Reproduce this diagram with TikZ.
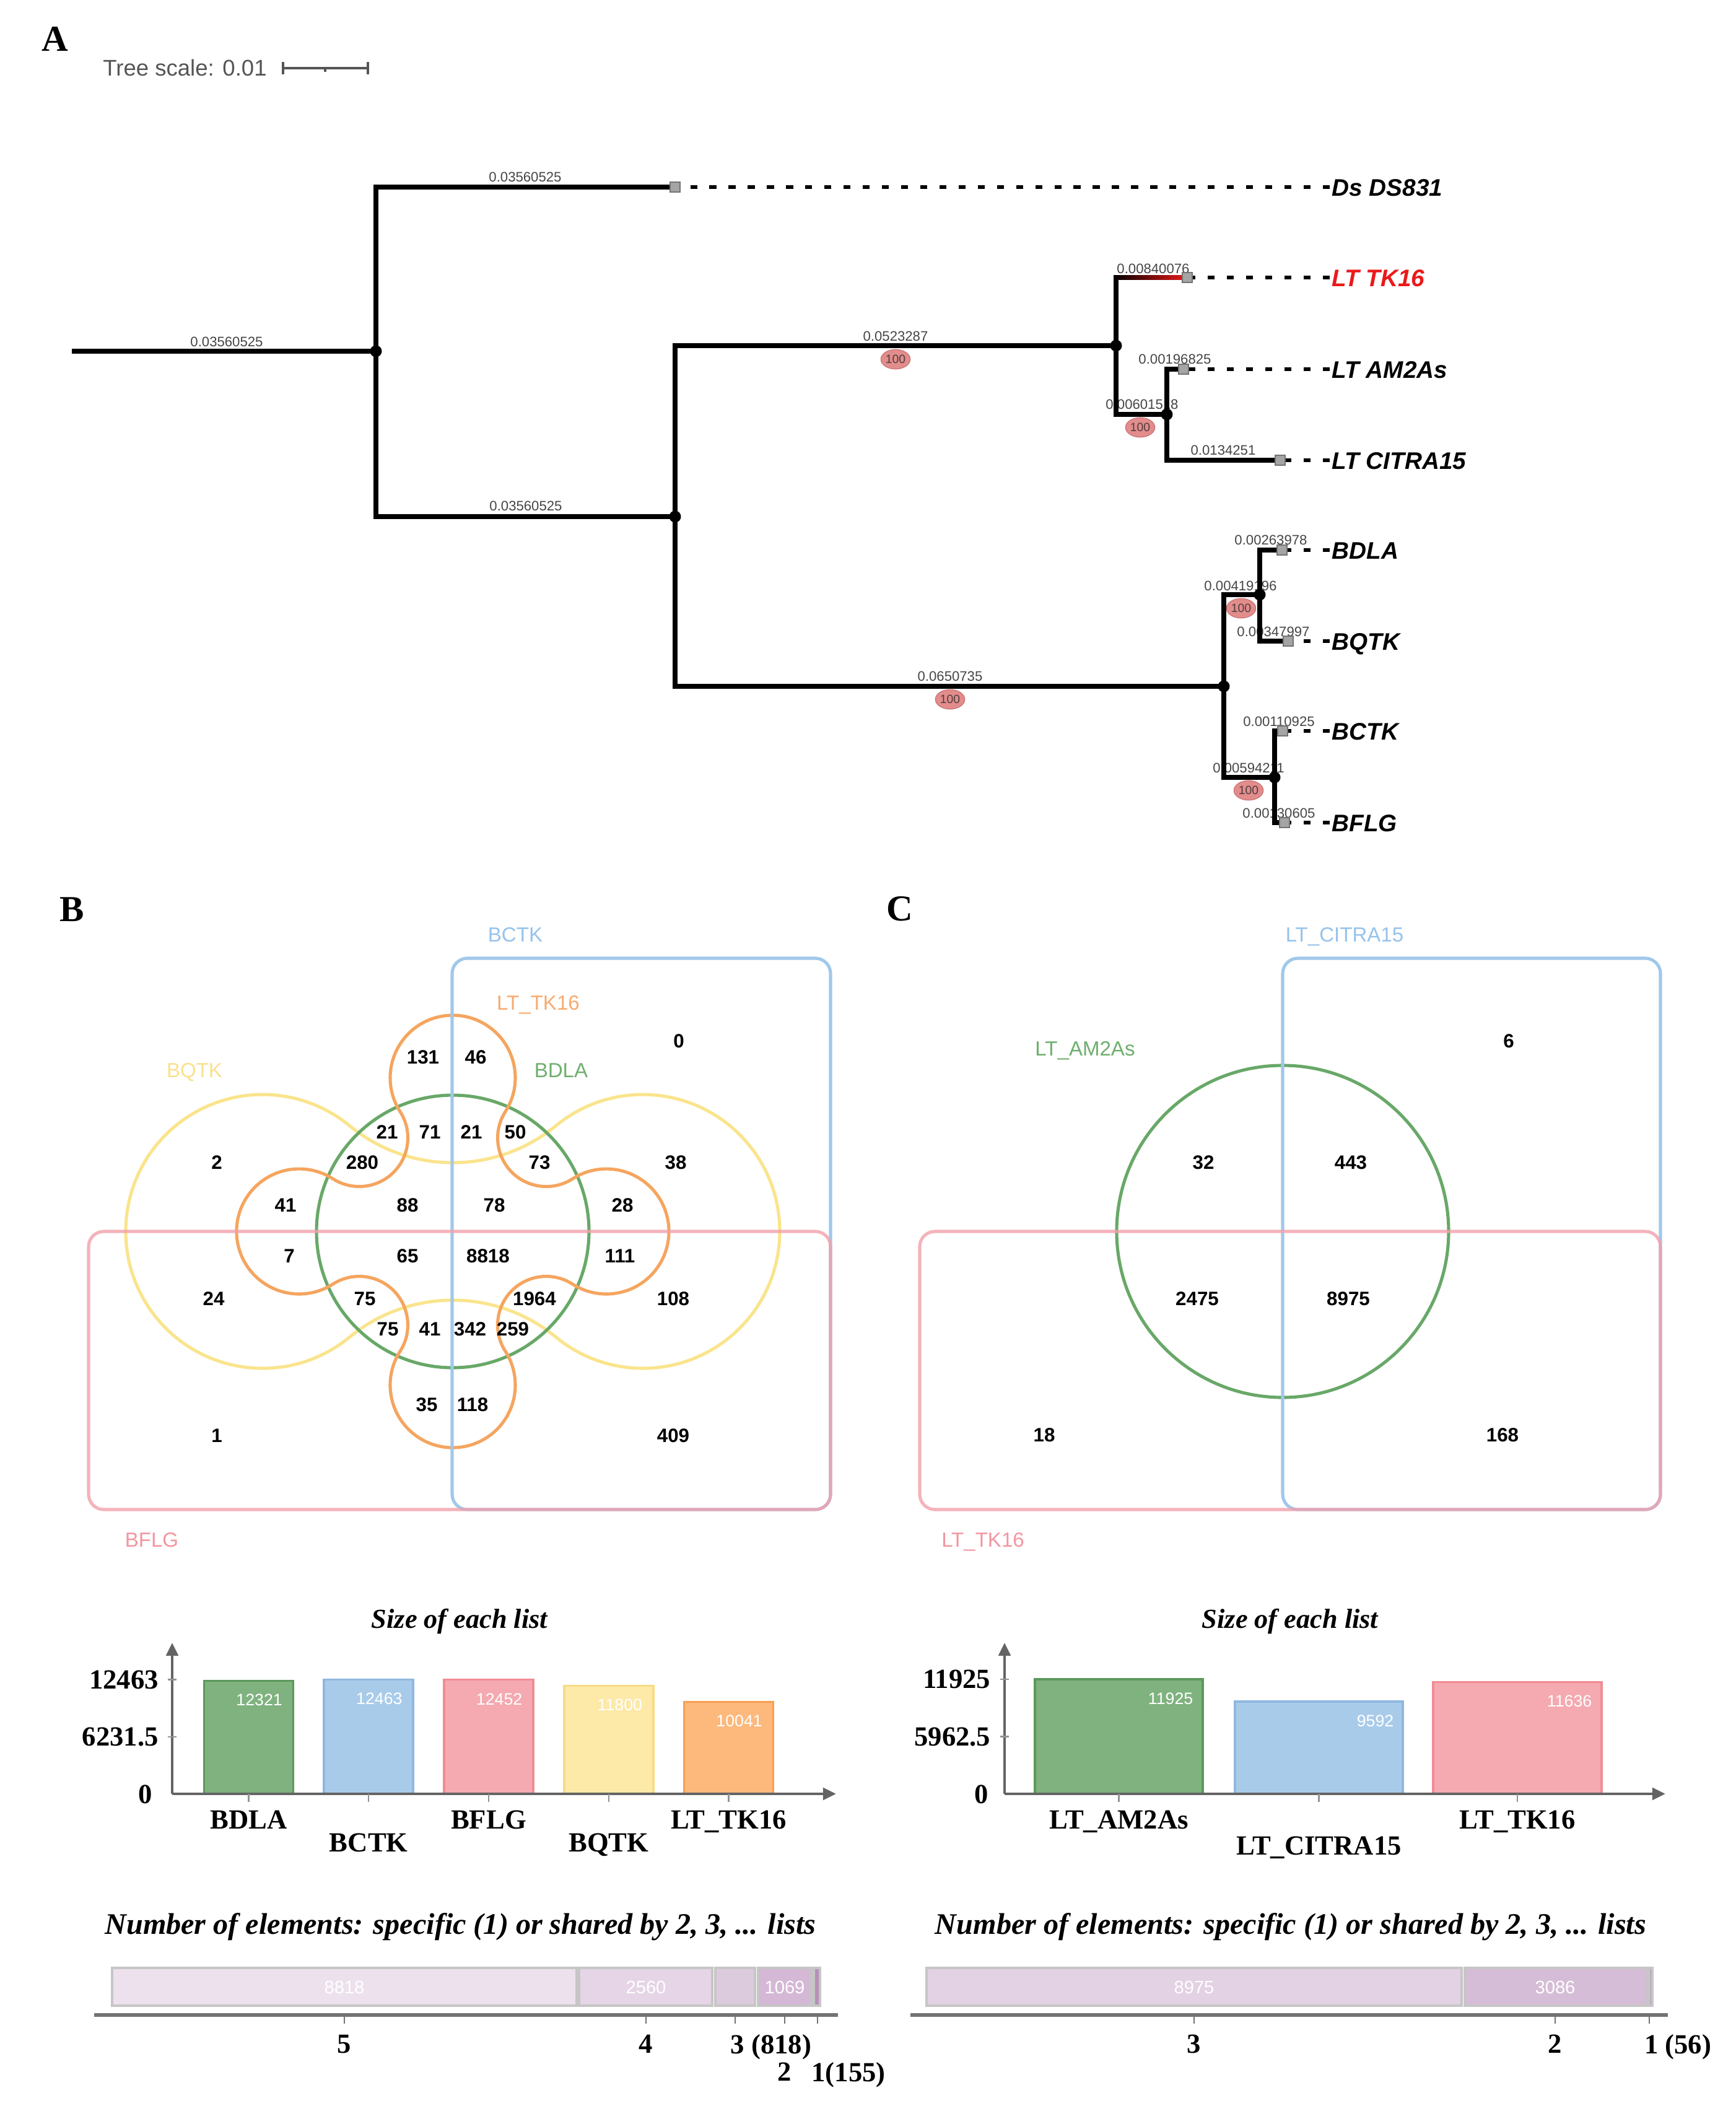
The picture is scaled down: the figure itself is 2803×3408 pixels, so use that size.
\documentclass[tikz,border=0pt]{standalone}
\usepackage{fontspec}
\setmainfont{Liberation Serif}
\setsansfont{Liberation Sans}
\usetikzlibrary{arrows.meta,shapes.geometric}
\definecolor{labgray}{RGB}{70,70,70}
\definecolor{scalegray}{RGB}{85,85,85}
\definecolor{sqgray}{RGB}{165,165,165}
\definecolor{sqdark}{RGB}{115,115,115}
\definecolor{bootpink}{RGB}{226,140,140}
\definecolor{bootedge}{RGB}{200,110,110}
\definecolor{boottext}{RGB}{80,60,60}
\definecolor{ltred}{RGB}{235,25,25}
\definecolor{vblue}{RGB}{160,200,235}
\definecolor{vpink}{RGB}{242,160,170}
\definecolor{vgreen}{RGB}{104,168,104}
\definecolor{vorange}{RGB}{245,165,95}
\definecolor{vyellow}{RGB}{250,228,140}
\definecolor{lblue}{RGB}{150,195,235}
\definecolor{lpink}{RGB}{242,150,160}
\definecolor{lgreen}{RGB}{110,175,110}
\definecolor{lorange}{RGB}{248,170,110}
\definecolor{lyellow}{RGB}{250,225,140}
\definecolor{axgray}{RGB}{100,100,100}
\definecolor{gfill}{RGB}{127,178,127}\definecolor{gdraw}{RGB}{92,152,92}
\definecolor{bfill}{RGB}{169,203,234}\definecolor{bdraw}{RGB}{143,184,224}
\definecolor{pfill}{RGB}{245,169,176}\definecolor{pdraw}{RGB}{240,140,150}
\definecolor{yfill}{RGB}{253,233,168}\definecolor{ydraw}{RGB}{248,220,132}
\definecolor{ofill}{RGB}{253,184,124}\definecolor{odraw}{RGB}{249,160,80}
\definecolor{segone}{RGB}{237,225,238}
\definecolor{segtwo}{RGB}{229,213,230}
\definecolor{segthree}{RGB}{220,203,221}
\definecolor{segfour}{RGB}{212,184,214}
\definecolor{segfive}{RGB}{184,143,187}
\definecolor{segcone}{RGB}{227,209,228}
\definecolor{segctwo}{RGB}{214,189,215}
\definecolor{seggray}{RGB}{198,198,198}
\definecolor{saxgray}{RGB}{115,115,115}
\tikzset{
  br/.style={line width=2.1pt, line cap=rect},
  blab/.style={font=\sffamily\fontsize{6.3}{7}\selectfont, text=labgray, inner sep=0pt, text depth=0pt},
  leaf/.style={font=\sffamily\bfseries\itshape\fontsize{11}{13}\selectfont, anchor=base west, inner sep=0pt},
  leafsq/.style={rectangle, draw=sqdark, fill=sqgray, line width=0.4pt, minimum width=4.6pt, minimum height=4.6pt, inner sep=0pt},
  dashline/.style={line width=1.8pt, dash pattern=on 3.2pt off 5.6pt},
  boot/.style={ellipse, fill=bootpink, draw=bootedge, line width=0.3pt, minimum width=13.5pt, minimum height=9pt, inner sep=0pt, font=\sffamily\fontsize{5.5}{6}\selectfont, text=boottext},
  ndot/.style={circle, fill=black, minimum size=5.4pt, inner sep=0pt},
  panel/.style={font=\bfseries\fontsize{16.8}{18}\selectfont, inner sep=0pt, text depth=0pt},
  vnum/.style={font=\sffamily\bfseries\fontsize{8.9}{10}\selectfont, inner sep=0pt, text depth=0pt},
  vlab/.style={font=\sffamily\fontsize{9.4}{11}\selectfont, inner sep=0pt, text depth=0pt},
  vline/.style={line width=1.45pt},
  btitle/.style={font=\bfseries\itshape\fontsize{12.6}{14}\selectfont, inner sep=0pt, text depth=0pt},
  ntitle/.style={font=\bfseries\itshape\fontsize{13.7}{15}\selectfont, inner sep=0pt, text depth=0pt},
  blabel/.style={font=\bfseries\fontsize{12.7}{14}\selectfont, inner sep=0pt, text depth=0pt},
  bval/.style={font=\sffamily\fontsize{7.6}{9}\selectfont, text=white, inner sep=0pt, text depth=0pt, anchor=east},
  sval/.style={font=\sffamily\fontsize{8.3}{9}\selectfont, text=white, inner sep=0pt, text depth=0pt},
  axisline/.style={draw=axgray, line width=1.3pt},
  axtick/.style={draw=axgray!70, line width=0.6pt},
  barbox/.style={line width=1pt},
  seg/.style={draw=seggray, line width=1pt},
  saxis/.style={draw=saxgray, line width=1.7pt},
  stick/.style={draw=saxgray, line width=0.5pt},
  arr/.style={-{Triangle[length=6pt,width=5.5pt]}},
}
\begin{document}
\begin{tikzpicture}[x=0.01cm,y=-0.01cm]
\useasboundingbox (0,0) rectangle (2803,3408);
\fill[white] (0,0) rectangle (2803,3408);

%================ PANEL A =================
\node[panel] (pA) at (89,63) {A};
\node[font=\sffamily\fontsize{10.4}{12}\selectfont, text=scalegray, inner sep=0pt, text depth=0pt] (tscale) at (298.5,109) {Tree scale: 0.01};
\coordinate (sbl) at (457,110); \coordinate (sbr) at (594,110);
\draw[scalegray, line width=0.9pt] (sbl) -- (sbr);
\draw[scalegray, line width=0.9pt] (457,100) -- (457,120) (594,100) -- (594,120) (525,110) -- (525,116);

% tree coordinates
\coordinate (root) at (120,567);
\coordinate (n1) at (607,567); \coordinate (n1t) at (607,302); \coordinate (n1b) at (607,834);
\coordinate (ds) at (1090,302);
\coordinate (n2) at (1090,834); \coordinate (n2t) at (1090,558); \coordinate (n2b) at (1090,1108);
\coordinate (n3) at (1802,558); \coordinate (n3t) at (1802,448); \coordinate (n3b) at (1802,669);
\coordinate (tk) at (1917,448);
\coordinate (n4) at (1884,669); \coordinate (n4t) at (1884,596); \coordinate (n4b) at (1884,743);
\coordinate (am) at (1911,596); \coordinate (cit) at (2067,743);
\coordinate (n5) at (1976,1108); \coordinate (n5t) at (1976,960); \coordinate (n5b) at (1976,1255);
\coordinate (n6) at (2034,960); \coordinate (n6t) at (2034,888); \coordinate (n6b) at (2034,1035);
\coordinate (bdla) at (2070,888); \coordinate (bqtk) at (2080,1035);
\coordinate (n7) at (2058,1255); \coordinate (n7t) at (2058,1180); \coordinate (n7b) at (2058,1328);
\coordinate (bctk) at (2071,1180); \coordinate (bflg) at (2074,1328);

% branch length labels
\node[blab] at (366,552) {0.03560525};
\node[blab] at (848,286) {0.03560525};
\node[blab] at (849,817) {0.03560525};
\node[blab] at (1446,543) {0.0523287};
\node[blab] at (1862,434) {0.00840076};
\node[blab] at (1897,580) {0.00196825};
\node[blab] at (1844,653) {0.00601518};
\node[blab] at (1975,727) {0.0134251};
\node[blab] at (1534,1092) {0.0650735};
\node[blab] at (2003,946) {0.00419196};
\node[blab] at (2052,872) {0.00263978};
\node[blab] at (2056,1020) {0.00347997};
\node[blab] at (2016,1240) {0.00594211};
\node[blab] at (2065,1165) {0.00110925};
\node[blab] at (2065,1313) {0.00130605};

% branches
\draw[br] (root) -- (n1);
\draw[br] (n1t) -- (n1b);
\draw[br] (n1t) -- (ds);
\draw[br] (n1b) -- (n2);
\draw[br] (n2t) -- (n2b);
\draw[br] (n2t) -- (n3);
\draw[br] (n3t) -- (n3b);
\shade[left color=black, right color=ltred] (1798,444.3) rectangle (1917,451.7);
\draw[br] (n3b) -- (n4);
\draw[br] (n4t) -- (n4b);
\draw[br] (n4t) -- (am);
\draw[br] (n4b) -- (cit);
\draw[br] (n2b) -- (n5);
\draw[br] (n5t) -- (n5b);
\draw[br] (n5t) -- (n6);
\draw[br] (n6t) -- (n6b);
\draw[br] (n6t) -- (bdla);
\draw[br] (n6b) -- (bqtk);
\draw[br] (n5b) -- (n7);
\draw[br] (n7t) -- (n7b);
\draw[br] (n7t) -- (bctk);
\draw[br] (n7b) -- (bflg);

% internal node dots
\foreach \n in {n1,n2,n3,n4,n5,n6,n7} \node[ndot] at (\n) {};

% bootstrap values
\node[boot] (bs1) at (1446,580) {100};
\node[boot] (bs2) at (1841,690) {100};
\node[boot] (bs3) at (1534,1129) {100};
\node[boot] (bs4) at (2004,982) {100};
\node[boot] (bs5) at (2016,1276) {100};

% leaf squares
\node[leafsq] (sqds) at (ds) {};
\node[leafsq] (sqtk) at (tk) {};
\node[leafsq] (sqam) at (am) {};
\node[leafsq] (sqcit) at (cit) {};
\node[leafsq] (sqbdla) at (bdla) {};
\node[leafsq] (sqbqtk) at (bqtk) {};
\node[leafsq] (sqbctk) at (bctk) {};
\node[leafsq] (sqbflg) at (bflg) {};

% leaf labels
\node[leaf] (lds) at (2150,316) {Ds DS831};
\node[leaf, text=ltred] (ltk) at (2150,462) {LT TK16};
\node[leaf] (lam) at (2150,610) {LT AM2As};
\node[leaf] (lcit) at (2150,757) {LT CITRA15};
\node[leaf] (lbdla) at (2150,902) {BDLA};
\node[leaf] (lbqtk) at (2150,1049) {BQTK};
\node[leaf] (lbctk) at (2150,1194) {BCTK};
\node[leaf] (lbflg) at (2150,1342) {BFLG};

\draw[dashline] (2147,302) -- (sqds.east);
\draw[dashline] (2147,448) -- (sqtk.east);
\draw[dashline] (2147,596) -- (sqam.east);
\draw[dashline] (2147,743) -- (sqcit.east);
\draw[dashline] (2147,888) -- (sqbdla.east);
\draw[dashline] (2147,1035) -- (sqbqtk.east);
\draw[dashline] (2147,1180) -- (sqbctk.east);
\draw[dashline] (2147,1328) -- (sqbflg.east);

%================ PANEL B =================
\node[panel] (pB) at (116,1468) {B};
% yellow BQTK dumbbell
\draw[vline, vyellow] (424,1988) ++(-50.57:221)
  arc[start angle=129.43, end angle=50.57, radius=262.4]
  arc[start angle=-129.43, end angle=129.43, radius=221]
  arc[start angle=-50.57, end angle=-129.43, radius=262.4]
  arc[start angle=50.57, end angle=309.43, radius=221] -- cycle;
% green BDLA
\draw[vline, vgreen] (731,1988) circle[radius=220];
% orange LT_TK16
\draw[vline, vorange] (731,1740) ++(32.72:101)
  arc[start angle=32.72, end angle=-212.72, radius=101]
  arc[start angle=-32.72, end angle=122.72, radius=78.5]
  arc[start angle=-57.28, end angle=-302.72, radius=101]
  arc[start angle=237.28, end angle=392.72, radius=78.5]
  arc[start angle=212.72, end angle=-32.72, radius=101]
  arc[start angle=147.28, end angle=302.72, radius=78.5]
  arc[start angle=122.72, end angle=-122.72, radius=101]
  arc[start angle=57.28, end angle=212.72, radius=78.5] -- cycle;
% rectangles
\draw[vline, vblue, rounded corners=7pt] (730,1547) rectangle (1341,2437);
\draw[vline, vpink, draw opacity=0.8, rounded corners=7pt] (143,1988) rectangle (1341,2437);

\node[vlab, text=lblue] (lb1) at (832,1509) {BCTK};
\node[vlab, text=lorange] (lb2) at (869,1619) {LT\_TK16};
\node[vlab, text=lyellow] (lb3) at (314,1728) {BQTK};
\node[vlab, text=lgreen] (lb4) at (906,1728) {BDLA};
\node[vlab, text=lpink] (lb5) at (245,2486) {BFLG};

\node[vnum] at (683,1707) {131};
\node[vnum] at (768,1707) {46};
\node[vnum] at (1096,1681) {0};
\node[vnum] at (625,1828) {21};
\node[vnum] at (694,1828) {71};
\node[vnum] at (761,1828) {21};
\node[vnum] at (832,1828) {50};
\node[vnum] at (350,1877) {2};
\node[vnum] at (585,1877) {280};
\node[vnum] at (871,1877) {73};
\node[vnum] at (1091,1877) {38};
\node[vnum] at (461,1946) {41};
\node[vnum] at (658,1946) {88};
\node[vnum] at (798,1946) {78};
\node[vnum] at (1005,1946) {28};
\node[vnum] at (467,2028) {7};
\node[vnum] at (658,2028) {65};
\node[vnum] at (788,2028) {8818};
\node[vnum] at (1001,2028) {111};
\node[vnum] at (345,2097) {24};
\node[vnum] at (589,2097) {75};
\node[vnum] at (863,2097) {1964};
\node[vnum] at (1087,2097) {108};
\node[vnum] at (626,2146) {75};
\node[vnum] at (694,2146) {41};
\node[vnum] at (759,2146) {342};
\node[vnum] at (828,2146) {259};
\node[vnum] at (689,2268) {35};
\node[vnum] at (763,2268) {118};
\node[vnum] at (350,2318) {1};
\node[vnum] at (1087,2318) {409};

%================ PANEL C =================
\node[panel] (pC) at (1453,1467) {C};
\draw[vline, vgreen] (2071,1988) circle[radius=268];
\draw[vline, vblue, rounded corners=7pt] (2071,1547) rectangle (2681,2437);
\draw[vline, vpink, draw opacity=0.8, rounded corners=7pt] (1485,1988) rectangle (2681,2437);
\node[vlab, text=lblue] (lc1) at (2171,1509) {LT\_CITRA15};
\node[vlab, text=lgreen] (lc2) at (1752,1693) {LT\_AM2As};
\node[vlab, text=lpink] (lc3) at (1587,2486) {LT\_TK16};
\node[vnum] at (2436,1681) {6};
\node[vnum] at (1943,1877) {32};
\node[vnum] at (2181,1877) {443};
\node[vnum] at (1933,2097) {2475};
\node[vnum] at (2177,2097) {8975};
\node[vnum] at (1686,2317) {18};
\node[vnum] at (2426,2317) {168};

%================ BAR CHART B =================
\node[btitle] (tb) at (742,2613) {Size of each list};
\draw[barbox, fill=gfill, draw=gdraw] (329.5,2896) rectangle (473.5,2713.6);
\draw[barbox, fill=bfill, draw=bdraw] (523.25,2896) rectangle (667.25,2711.5);
\draw[barbox, fill=pfill, draw=pdraw] (717,2896) rectangle (861,2711.7);
\draw[barbox, fill=yfill, draw=ydraw] (910.75,2896) rectangle (1054.75,2721.3);
\draw[barbox, fill=ofill, draw=odraw] (1104.5,2896) rectangle (1248.5,2747.4);
\node[bval] at (456.5,2744.6) {12321};
\node[bval] at (650.25,2742.5) {12463};
\node[bval] at (844,2742.7) {12452};
\node[bval] at (1037.75,2752.3) {11800};
\node[bval] at (1231.5,2778.4) {10041};
\coordinate (oB) at (278,2896);
\coordinate (yB) at (278,2652);
\coordinate (xB) at (1350,2896);
\draw[axisline, arr] (oB) -- (yB);
\draw[axisline, arr] (oB) -- (xB);
\draw[axtick] (271,2711.5) -- (285,2711.5) (271,2803.7) -- (285,2803.7);
\foreach \c in {401.5,595.25,789,982.75,1176.5} \draw[axtick] (\c,2896) -- (\c,2909);
\node[blabel, anchor=east] at (256.5,2711.5) {12463};
\node[blabel, anchor=east] at (256.5,2803.7) {6231.5};
\node[blabel] at (234.5,2897) {0};
\node[blabel] at (401.5,2938) {BDLA};
\node[blabel] at (595.25,2975) {BCTK};
\node[blabel] at (789,2938) {BFLG};
\node[blabel] at (982.75,2975) {BQTK};
\node[blabel] at (1176.5,2938) {LT\_TK16};

%================ BAR CHART C =================
\node[btitle] (tc) at (2083,2613) {Size of each list};
\draw[barbox, fill=gfill, draw=gdraw] (1671,2896) rectangle (1942,2711);
\draw[barbox, fill=bfill, draw=bdraw] (1994,2896) rectangle (2265,2747.2);
\draw[barbox, fill=pfill, draw=pdraw] (2314,2896) rectangle (2586,2715.5);
\node[bval] at (1927,2742) {11925};
\node[bval] at (2251,2778.2) {9592};
\node[bval] at (2571,2746.5) {11636};
\coordinate (oC) at (1622,2896);
\coordinate (yC) at (1622,2652);
\coordinate (xC) at (2689,2896);
\draw[axisline, arr] (oC) -- (yC);
\draw[axisline, arr] (oC) -- (xC);
\draw[axtick] (1615,2711) -- (1629,2711) (1615,2803.5) -- (1629,2803.5);
\foreach \c in {1806.5,2129.5,2450} \draw[axtick] (\c,2896) -- (\c,2909);
\node[blabel, anchor=east] at (1600,2711) {11925};
\node[blabel, anchor=east] at (1600,2803.5) {5962.5};
\node[blabel] at (1585,2897) {0};
\node[blabel] at (1806.5,2938) {LT\_AM2As};
\node[blabel] at (2129.5,2980) {LT\_CITRA15};
\node[blabel] at (2450,2938) {LT\_TK16};

%================ SHARED BARS B =================
\node[ntitle] (nb) at (743.5,3105) {Number of elements: specific (1) or shared by 2, 3, ... lists};
\draw[seg, fill=segone] (181,3177) rectangle (931,3238);
\draw[seg, fill=segtwo] (935,3177) rectangle (1150,3238);
\draw[seg, fill=segthree] (1155,3177) rectangle (1219,3238);
\draw[seg, fill=segfour] (1224,3177) rectangle (1310,3238);
\draw[seg, fill=segfive] (1314,3177) rectangle (1324,3238);
\node[sval] at (556,3208) {8818};
\node[sval] at (1043,3208) {2560};
\node[sval] at (1267,3208) {1069};
\draw[saxis] (152,3253) -- (1353,3253);
\foreach \c in {556,1043,1187,1267,1320} \draw[stick] (\c,3253) -- (\c,3267);
\node[blabel] at (556,3300) {5};
\node[blabel] at (1043,3300) {4};
\node[blabel] at (1245,3300) {3 (818)};
\node[blabel] at (1267,3345) {2};
\node[blabel] at (1370,3345) {1(155)};

%================ SHARED BARS C =================
\node[ntitle] (nc) at (2084,3105) {Number of elements: specific (1) or shared by 2, 3, ... lists};
\draw[seg, fill=segcone] (1496,3177) rectangle (2360,3238);
\draw[seg, fill=segctwo] (2365,3177) rectangle (2660,3238);
\draw[seg, fill=segfive] (2663,3177) rectangle (2668,3238);
\node[sval] at (1928,3208) {8975};
\node[sval] at (2511,3208) {3086};
\draw[saxis] (1470,3253) -- (2693,3253);
\foreach \c in {1928,2511,2663} \draw[stick] (\c,3253) -- (\c,3267);
\node[blabel] at (1928,3300) {3};
\node[blabel] at (2511,3300) {2};
\node[blabel] at (2709,3300) {1 (56)};
\end{tikzpicture}
\end{document}
